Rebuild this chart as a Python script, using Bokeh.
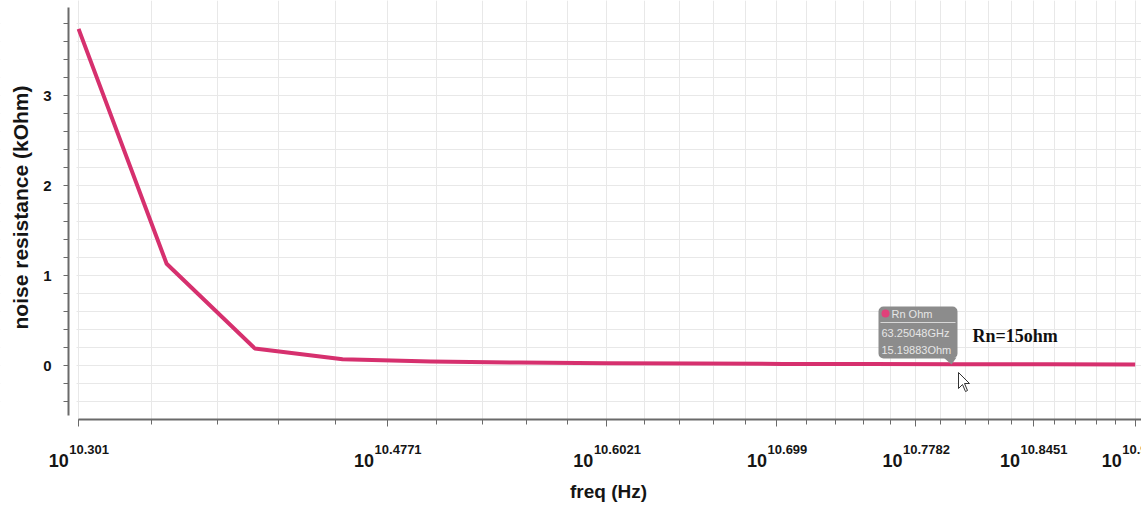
import math
from bokeh.plotting import figure
from bokeh.models import FixedTicker, Range1d, Label, BoxAnnotation
from bokeh.embed import file_html
from bokeh.resources import INLINE

# ---------------- data ----------------
freq_ghz = [20.0, 22.45, 25.2, 28.28, 31.75, 35.64, 40.0, 44.9, 50.4, 56.57, 63.5, 71.27, 80.0]
rn_kohm = [3.74, 1.13, 0.19, 0.07, 0.045, 0.032, 0.025, 0.021, 0.018, 0.016, 0.0152, 0.013, 0.012]

x_major_ticks_hz = [2e10, 3e10, 4e10, 5e10, 6e10, 7e10, 8e10]
x_tick_exponents = ["10.301", "10.4771", "10.6021", "10.699", "10.7782", "10.8451", "10.9031"]
x_minor_ticks_ghz = [20, 22, 24, 26, 28, 30, 32, 34, 36, 38, 40, 42, 44, 46, 48, 50,
                     52, 54, 56, 58, 60, 62, 64, 66, 68, 70, 72, 74, 76, 78, 80]
y_major_ticks = [0, 1, 2, 3]
y_minor_ticks = [-0.4, -0.2, 0.2, 0.4, 0.6, 0.8, 1.2, 1.4, 1.6, 1.8, 2.2, 2.4, 2.6, 2.8,
                 3.2, 3.4, 3.6, 3.8]

x_title = "freq (Hz)"
y_title = "noise resistance (kOhm)"
marker_name = "Rn Ohm"
marker_freq_ghz = 63.25048
marker_rn_ohm = 15.19883
note_text = "Rn=15ohm"

# ---------------- layout helpers (canvas pixel -> data) ----------------
def fx(px):
    return 10 ** (10.301 + (px - 78) / 1755.0)

def fy(py):
    return (365 - py) / 90.0

freq_hz = [f * 1e9 for f in freq_ghz]
x_minor_hz = [f * 1e9 for f in x_minor_ticks_ghz]

LINE = "#d6306e"
AXIS = "#6a6a6a"
GRID = "#e8e8e8"
TXT = "#151515"

p = figure(width=1141, height=508, x_axis_type="log",
           x_range=Range1d(fx(0), fx(1141)), y_range=Range1d(fy(508), fy(0)),
           output_backend="svg", toolbar_location=None,
           min_border_left=0, min_border_right=0, min_border_top=0, min_border_bottom=0)
p.outline_line_color = None
p.background_fill_color = "white"
p.border_fill_color = "white"

# grids
p.xgrid.ticker = FixedTicker(ticks=x_major_ticks_hz, minor_ticks=x_minor_hz)
p.xgrid.grid_line_color = GRID
p.xgrid.minor_grid_line_color = GRID
p.ygrid.ticker = FixedTicker(ticks=y_major_ticks, minor_ticks=y_minor_ticks)
p.ygrid.grid_line_color = GRID
p.ygrid.minor_grid_line_color = GRID

# white masks so the grid only covers the plotting area
p.add_layout(BoxAnnotation(top=fy(419), fill_color="white", fill_alpha=1.0,
                           line_color=None, level="glyph"))
p.add_layout(BoxAnnotation(right=fx(76), fill_color="white", fill_alpha=1.0,
                           line_color=None, level="glyph"))

# x axis
xa = p.xaxis[0]
xa.fixed_location = fy(419)
xa.ticker = FixedTicker(ticks=x_major_ticks_hz, minor_ticks=x_minor_hz)
xa.bounds = (2e10, fx(1141))
xa.axis_line_color = AXIS
xa.axis_line_width = 2
xa.major_tick_line_color = AXIS
xa.minor_tick_line_color = AXIS
xa.major_tick_out = 7
xa.major_tick_in = 0
xa.minor_tick_out = 5
xa.minor_tick_in = 0
xa.major_label_overrides = {t: "" for t in x_major_ticks_hz}

# y axis
ya = p.yaxis[0]
ya.fixed_location = fx(68)
ya.ticker = FixedTicker(ticks=y_major_ticks, minor_ticks=y_minor_ticks)
ya.bounds = (-0.56, 3.98)
ya.axis_line_color = AXIS
ya.axis_line_width = 2
ya.major_tick_line_color = AXIS
ya.minor_tick_line_color = AXIS
ya.major_tick_out = 5
ya.major_tick_in = 0
ya.minor_tick_out = 5
ya.minor_tick_in = 0
ya.major_label_text_font = "Liberation Sans"
ya.major_label_text_font_style = "bold"
ya.major_label_text_font_size = "15px"
ya.major_label_text_color = TXT
ya.major_label_standoff = 12

# axis titles
p.add_layout(Label(x=fx(608), y=fy(491), text=x_title, text_align="center",
                   text_baseline="middle", text_font="Liberation Sans",
                   text_font_style="bold", text_font_size="19px", text_color=TXT))
p.add_layout(Label(x=fx(20), y=fy(207), text=y_title, text_align="center",
                   text_baseline="middle", angle=math.pi / 2, text_font="Liberation Sans",
                   text_font_style="bold", text_font_size="21px", text_color=TXT))

# x tick labels 10^exponent
F10, FEXP = 18, 13
for t, e in zip(x_major_ticks_hz, x_tick_exponents):
    w10 = 2 * 0.556 * F10
    wexp = sum(0.278 if c == "." else 0.556 for c in e) * FEXP
    W = w10 + wexp
    p.add_layout(Label(x=t, y=fy(466), text="10", text_align="left", x_offset=-W / 2,
                       text_font="Liberation Sans", text_font_style="bold",
                       text_font_size=f"{F10}px", text_color=TXT))
    p.add_layout(Label(x=t, y=fy(453), text=e, text_align="left", x_offset=-W / 2 + w10 + 0.5,
                       text_font="Liberation Sans", text_font_style="bold",
                       text_font_size=f"{FEXP}px", text_color=TXT))

# data line
p.line(x=freq_hz, y=rn_kohm, line_width=4, line_color=LINE, line_join="round")

# marker tooltip
TIP = "#8c8c8c"
p.add_layout(BoxAnnotation(left=fx(878), right=fx(957), top=fy(306), bottom=fy(358),
                           fill_color=TIP, fill_alpha=1.0, line_color=None,
                           border_radius=5, level="annotation"))
p.patch(x=[fx(943), fx(956), fx(951)], y=[fy(357), fy(357), fy(364)],
        fill_color=TIP, line_color=None, level="overlay")
p.scatter(x=[fx(885)], y=[fy(313)], size=8, marker="circle", fill_color="#e0407a",
          line_color=None, level="overlay")
p.segment(x0=[fx(880)], y0=[fy(322)], x1=[fx(955)], y1=[fy(322)],
          line_color="#d8d8d8", line_width=1, level="overlay")
tip_style = dict(text_font="Liberation Sans", text_font_size="11px",
                 text_color="#e6e6e6", text_baseline="middle", level="overlay")
p.add_layout(Label(x=fx(891), y=fy(313), text=marker_name, **tip_style))
p.add_layout(Label(x=fx(881), y=fy(332), text=f"{marker_freq_ghz:.5f}GHz", **tip_style))
p.add_layout(Label(x=fx(881), y=fy(349), text=f"{marker_rn_ohm:.5f}Ohm", **tip_style))

# mouse cursor
cur = [(0, 0), (0, 16), (4, 12), (7, 19), (9, 18), (6, 11), (11, 11)]
p.patch(x=[fx(958 + dx) for dx, dy in cur], y=[fy(372 + dy) for dx, dy in cur],
        fill_color="white", line_color="#333333", line_width=1, level="overlay")

# annotation text
p.add_layout(Label(x=fx(972), y=fy(345), text=note_text, text_font="Liberation Serif",
                   text_font_style="bold", text_font_size="18px", text_color="#111111"))

open("out.html", "w").write(file_html(p, INLINE))
